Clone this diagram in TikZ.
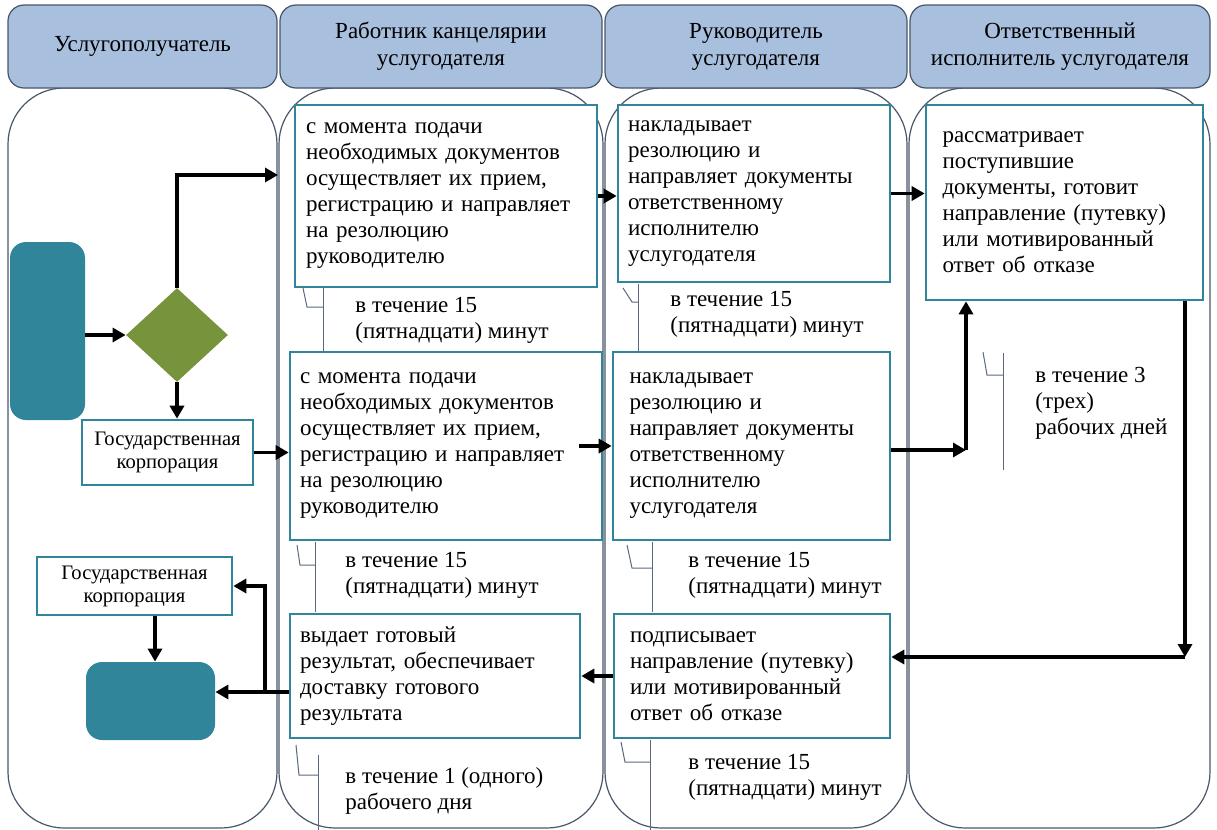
\documentclass[tikz,border=0pt]{standalone}
\usepackage{fontspec}
\setmainfont{Liberation Serif}
\usetikzlibrary{shapes.geometric,arrows.meta}

\definecolor{hdrfill}{RGB}{168,191,222}
\definecolor{laneline}{RGB}{72,86,106}
\definecolor{boxline}{RGB}{49,133,155}
\definecolor{tealfill}{RGB}{49,133,155}
\definecolor{olivefill}{RGB}{119,147,60}
\definecolor{tickline}{RGB}{90,104,128}

\tikzset{
  lane/.style={draw=laneline, line width=0.6pt, rounded corners=28pt},
  hdr/.style={draw=laneline, line width=0.6pt, fill=hdrfill, rounded corners=8pt, align=center, inner sep=0pt, font=\fontsize{11.5}{13.5}\selectfont},
  proc/.style={draw=boxline, line width=1.3pt, fill=white, align=left, inner xsep=0pt, font=\fontsize{11.5}{13}\selectfont},
  gov/.style={draw=boxline, line width=1.3pt, fill=white, align=center, inner sep=0pt, font=\fontsize{10.3}{11.5}\selectfont},
  term/.style={fill=tealfill, rounded corners=8pt, inner sep=0pt},
  note/.style={anchor=north west, align=left, inner sep=0pt, font=\fontsize{11.5}{13}\selectfont},
  tick/.style={draw=tickline, line width=0.5pt},
  arr/.style={draw=black, line width=1.8pt, -{Triangle[length=6.5pt,width=7pt]}},
}

\begin{document}
\begin{tikzpicture}[x=0.5pt,y=0.5pt,yscale=-1,xscale=1]
\useasboundingbox (0,0) rectangle (1217,830);

% lanes
\draw[lane] (8,88) rectangle (277,828);
\draw[lane] (279,88) rectangle (603,828);
\draw[lane] (605,88) rectangle (907,828);
\draw[lane] (909,88) rectangle (1210,828);

% lane headers
\node[hdr, minimum width=134.5pt, minimum height=41.5pt] (hdrA) at (142.5,46.5) {Услугополучатель};
\node[hdr, minimum width=161pt, minimum height=41.5pt] (hdrB) at (441,46.5) {Работник канцелярии\\услугодателя};
\node[hdr, minimum width=151pt, minimum height=41.5pt] (hdrC) at (756,46.5) {Руководитель\\услугодателя};
\node[hdr, minimum width=150pt, minimum height=41.5pt] (hdrD) at (1060,46.5) {Ответственный\\исполнитель услугодателя};

% time brackets
\draw[tick] (303,288) -- (307,307) -- (323,307);
\draw[tick] (323,288) -- (323,352);
\draw[tick] (623,288) -- (632,302) -- (638,302);
\draw[tick] (638,284) -- (638,352);
\draw[tick] (983,352) -- (987,375) -- (1003,375);
\draw[tick] (1003,353) -- (1003,470);
\draw[tick] (297,545) -- (300,565) -- (315,565);
\draw[tick] (315,542) -- (315,612);
\draw[tick] (627,545) -- (632,568) -- (652,568);
\draw[tick] (652,542) -- (652,612);
\draw[tick] (296,745) -- (299,775) -- (318,775);
\draw[tick] (318,755) -- (318,830);
\draw[tick] (621,742) -- (625,762) -- (650,762);
\draw[tick] (650,740) -- (650,830);

% start, choice and end
\node[term, minimum width=37.5pt, minimum height=89pt] (startA) at (47.5,331) {};
\node[diamond, fill=olivefill, inner sep=0pt, minimum width=51pt, minimum height=47pt] (choice) at (177,335) {};
\node[gov, minimum width=85.5pt, minimum height=32.5pt] (gosA) at (167.5,452.5) {Государственная\\корпорация};
\node[gov, minimum width=97.5pt, minimum height=29pt] (gosB) at (134.5,586) {Государственная\\корпорация};
\node[term, minimum width=64.5pt, minimum height=39pt] (endA) at (150.5,701) {};

% process boxes
\node[proc, minimum width=151pt, minimum height=91pt, text width=140pt] (priem) at (446,196) {с момента подачи\\необходимых документов\\осуществляет их прием,\\регистрацию и направляет\\на резолюцию\\руководителю};
\node[proc, minimum width=136pt, minimum height=88.5pt, text width=126pt] (rezol) at (754,193.5) {накладывает\\резолюцию и\\направляет документы\\ответственному\\исполнителю\\услугодателя};
\node[proc, minimum width=138.5pt, minimum height=97.5pt, text width=122pt] (rassm) at (1064.5,202.5) {рассматривает\\поступившие\\документы, готовит\\направление (путевку)\\или мотивированный\\ответ об отказе};
\node[proc, minimum width=156pt, minimum height=94pt, text width=146pt] (priemB) at (446,446) {с момента подачи\\необходимых документов\\осуществляет их прием,\\регистрацию и направляет\\на резолюцию\\руководителю};
\node[proc, minimum width=138.5pt, minimum height=94pt, text width=122pt] (rezolB) at (751.5,446) {накладывает\\резолюцию и\\направляет документы\\ответственному\\исполнителю\\услугодателя};
\node[proc, minimum width=145pt, minimum height=62pt, text width=135pt] (vydaet) at (435,676) {выдает готовый\\результат, обеспечивает\\доставку готового\\результата};
\node[proc, minimum width=138pt, minimum height=62pt, text width=122pt] (podpis) at (752,676) {подписывает\\направление (путевку)\\или мотивированный\\ответ об отказе};

% time notes
\node[note] (tA) at (355,297) {в течение 15\\(пятнадцати) минут};
\node[note] (tB) at (670,291) {в течение 15\\(пятнадцати) минут};
\node[note] (tC) at (1035,367) {в течение 3\\(трех)\\рабочих дней};
\node[note] (tD) at (345,552) {в течение 15\\(пятнадцати) минут};
\node[note] (tE) at (688,552) {в течение 15\\(пятнадцати) минут};
\node[note] (tF) at (345,767) {в течение 1 (одного)\\рабочего дня};
\node[note] (tG) at (688,754) {в течение 15\\(пятнадцати) минут};

% junction points
\coordinate (inA) at (278,175);
\coordinate (up) at (966,450);
\coordinate (dn) at (1185,657);
\coordinate (br) at (265,692);

% arrows
\draw[arr] (startA.east |- choice.west) -- (choice.west);
\draw[arr] (choice.north) |- (inA);
\draw[arr] (choice.south) -- (gosA.north -| choice.south);
\draw[arr] (gosA.east) -- (gosA.east -| priemB.west);
\draw[arr] (priem.east) -- (priem.east -| rezol.west);
\draw[arr] (rezol.east) -- (rezol.east -| rassm.west);
\draw[arr] ([xshift=-12pt]priemB.east) -- (rezolB.west);
\draw[arr] (rezolB.east |- up) -- (up);
\draw[arr] (up) -- (up |- rassm.south);
\draw[arr] (rassm.south -| dn) -- (dn);
\draw[arr] (dn) -- (dn -| podpis.east);
\draw[arr] (podpis.west) -- (vydaet.east);
\draw[arr] (vydaet.west |- br) -- (endA.east |- br);
\draw[arr] (br) |- (gosB.east);
\draw[arr] (gosB.south -| 155,0) -- (endA.north -| 155,0);
\end{tikzpicture}
\end{document}
